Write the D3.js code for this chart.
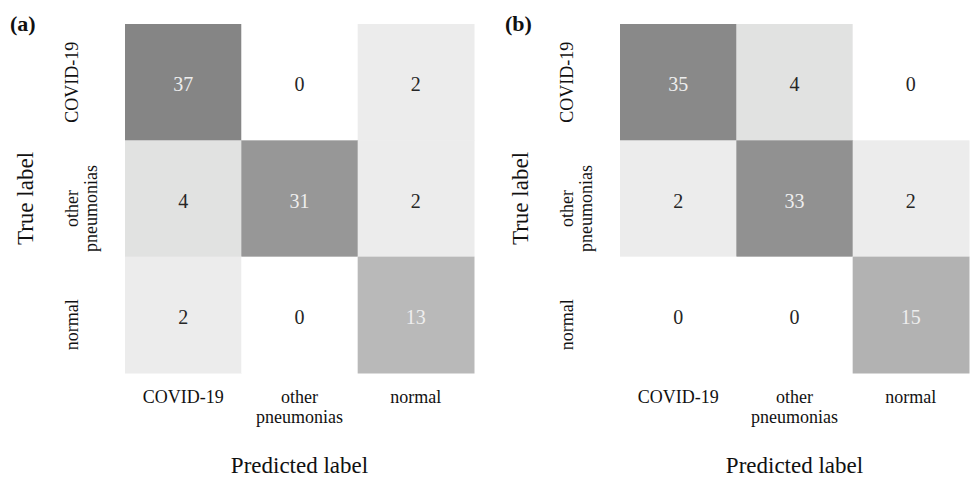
<!DOCTYPE html>
<html lang="en">

<head>
    <meta charset="utf-8">
    <title>Confusion matrices</title>
    <script src="https://d3js.org/d3.v7.min.js"></script>
    <style type="text/css">
        body { margin: 0; background: #fff; }
    </style>
</head>

<body>
    <script type="text/javascript">

        // data
        var classes = ["COVID-19", "other pneumonias", "normal"];
        var panelTags = ["(a)", "(b)"];
        var matrixA = [[37, 0, 2], [4, 31, 2], [2, 0, 13]];
        var matrixB = [[35, 4, 0], [2, 33, 2], [0, 0, 15]];
        var xTitle = "Predicted label",
            yTitle = "True label";

        var w = 972,
            h = 480,
            gridSize = 349,
            gridTop = 24,
            panelLeft = [125, 620],
            serif = "'Liberation Serif', 'Times New Roman', Times, serif";

        // grey shades
        var color = d3.scaleLinear()
            .domain([0, 2, 4, 14, 32, 36])
            .range(["#ffffff", "#ececec", "#e1e2e1", "#b4b4b4", "#959595", "#858585"])
            .clamp(true);

        var svg = d3.select("body")
            .append("svg")
            .attr("width", w)
            .attr("height", h)
            .style("font-family", serif);

        function drawPanel(matrix, tag, left) {
            var g = svg.append("g")
                .attr("transform", "translate(" + left + "," + gridTop + ")");

            var x = d3.scaleBand().domain(classes).range([0, gridSize]);
            var y = d3.scaleBand().domain(classes).range([0, gridSize]);

            var cells = [];
            matrix.forEach(function (row, i) {
                row.forEach(function (v, j) {
                    cells.push({ t: classes[i], p: classes[j], v: v });
                });
            });

            g.selectAll("rect").data(cells)
                .enter()
                .append("rect")
                .attr("x", d => x(d.p))
                .attr("y", d => y(d.t))
                .attr("width", x.bandwidth() + 0.5)
                .attr("height", y.bandwidth() + 0.5)
                .attr("fill", d => color(d.v));

            g.selectAll("text.val").data(cells)
                .enter()
                .append("text")
                .attr("class", "val")
                .attr("x", d => x(d.p) + x.bandwidth() / 2)
                .attr("y", d => y(d.t) + y.bandwidth() / 2 + 9)
                .attr("text-anchor", "middle")
                .attr("font-size", "20px")
                .attr("fill", d => d.v > 10 ? "#eeeeee" : "#262626")
                .text(d => d.v);

            // bottom tick labels (wrapped on spaces)
            var xt = g.selectAll("text.xt").data(classes)
                .enter()
                .append("text")
                .attr("class", "xt")
                .attr("text-anchor", "middle")
                .attr("font-size", "18px")
                .attr("fill", "#111");
            xt.each(function (d) {
                var el = d3.select(this);
                d.split(" ").forEach(function (word, k) {
                    el.append("tspan")
                        .attr("x", x(d) + x.bandwidth() / 2)
                        .attr("y", gridSize + 30 + k * 20)
                        .text(word);
                });
            });

            // left tick labels, rotated
            var yt = g.selectAll("text.yt").data(classes)
                .enter()
                .append("text")
                .attr("class", "yt")
                .attr("text-anchor", "middle")
                .attr("font-size", "18px")
                .attr("fill", "#111")
                .attr("transform", function (d, i) {
                    var cy = y(d) + y.bandwidth() / 2 + (i > 0 ? 10 : 0);
                    return "translate(0," + cy + ") rotate(-90)";
                });
            yt.each(function (d) {
                var el = d3.select(this);
                d.split(" ").forEach(function (word, k) {
                    el.append("tspan")
                        .attr("x", 0)
                        .attr("y", -47 + k * 19)
                        .text(word);
                });
            });

            g.append("text")
                .attr("x", gridSize / 2)
                .attr("y", gridSize + 100)
                .attr("text-anchor", "middle")
                .attr("font-size", "23px")
                .attr("fill", "#111")
                .text(xTitle);

            g.append("text")
                .attr("transform", "translate(-92," + (y(classes[1]) + y.bandwidth() / 2) + ") rotate(-90)")
                .attr("text-anchor", "middle")
                .attr("font-size", "23px")
                .attr("fill", "#111")
                .text(yTitle);

            g.append("text")
                .attr("x", -115)
                .attr("y", 7)
                .attr("font-size", "22px")
                .attr("font-weight", "bold")
                .attr("fill", "#111")
                .text(tag);
        }

        drawPanel(matrixA, panelTags[0], panelLeft[0]);
        drawPanel(matrixB, panelTags[1], panelLeft[1]);

    </script>
</body>

</html>
